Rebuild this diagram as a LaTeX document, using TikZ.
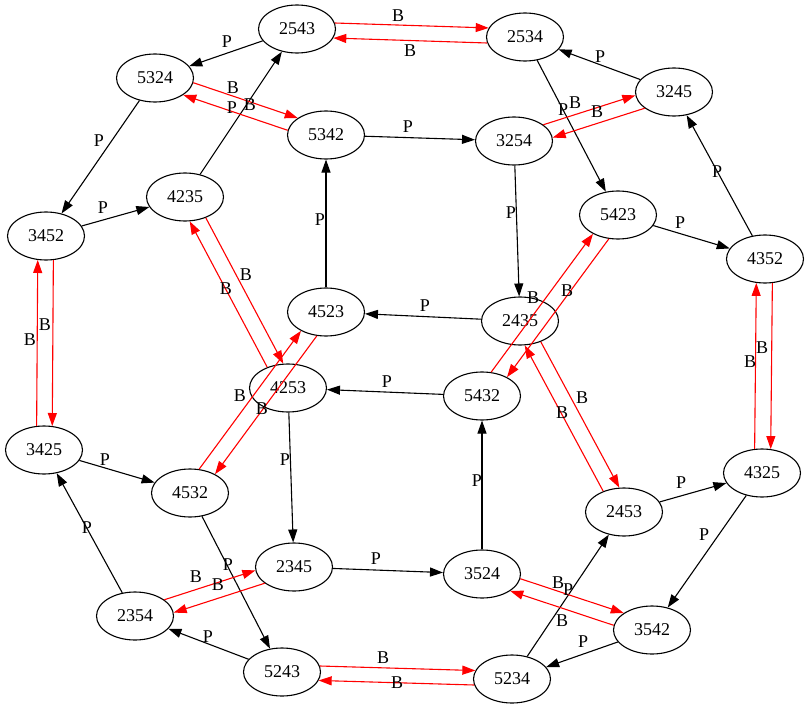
\documentclass[tikz,border=0pt]{standalone}
\usepackage{fontspec}
\setmainfont{Liberation Serif}
\usetikzlibrary{arrows.meta,shapes.geometric}
% red pair edge: straight line offset sideways from the centre line
\newcommand{\bpair}[2]{%
  \pgfmathanglebetweenpoints{\pgfpointanchor{#1}{center}}{\pgfpointanchor{#2}{center}}%
  \let\bpT\pgfmathresult
  \pgfmathsetmacro{\bpR}{924/sqrt(576*(cos(\bpT))^2+1482*(sin(\bpT))^2)}%
  \pgfmathsetmacro{\bpD}{asin(7.5/\bpR)}%
  \pgfmathsetmacro{\bpA}{\bpT+\bpD}%
  \pgfmathsetmacro{\bpB}{\bpT+180-\bpD}%
  \draw[be] (#1.\bpA) -- (#2.\bpB);%
}
\begin{document}
\begin{tikzpicture}[x=1pt,y=-1pt,
  st/.style={draw, ellipse, minimum width=77pt, minimum height=48pt, inner sep=0pt,
             line width=1.1pt, font=\fontsize{18}{20}\selectfont},
  pe/.style={draw=black, line width=1.1pt, -{Triangle[length=13pt,width=9pt]}},
  be/.style={draw=red, line width=1.1pt, -{Triangle[length=13pt,width=9pt]}},
  lb/.style={inner sep=0pt, font=\fontsize{18}{20}\selectfont}]
\useasboundingbox (0,0) rectangle (809,709);
% nodes
\node[st] (n2543) at (297,29) {2543};
\node[st] (n2534) at (525,37) {2534};
\node[st] (n5324) at (155,78) {5324};
\node[st] (n3245) at (674,92) {3245};
\node[st] (n5342) at (326,135) {5342};
\node[st] (n3254) at (514,141) {3254};
\node[st] (n4235) at (185,197) {4235};
\node[st] (n5423) at (618,215) {5423};
\node[st] (n3452) at (46,236) {3452};
\node[st] (n4352) at (765,259) {4352};
\node[st] (n4523) at (326,312) {4523};
\node[st] (n2435) at (520,321) {2435};
\node[st] (n4253) at (288,388) {4253};
\node[st] (n5432) at (482,396) {5432};
\node[st] (n3425) at (44,450) {3425};
\node[st] (n4325) at (762,473) {4325};
\node[st] (n4532) at (190,493) {4532};
\node[st] (n2453) at (624,512) {2453};
\node[st] (n2345) at (294,567) {2345};
\node[st] (n3524) at (482,574) {3524};
\node[st] (n2354) at (135,616) {2354};
\node[st] (n3542) at (652,630) {3542};
\node[st] (n5243) at (282,672) {5243};
\node[st] (n5234) at (512,679) {5234};
% black P edges
\draw[pe] (n2543) -- (n5324);
\draw[pe] (n3245) -- (n2534);
\draw[pe] (n2534) -- (n5423);
\draw[pe] (n5324) -- (n3452);
\draw[pe] (n5342) -- (n3254);
\draw[pe] (n4235) -- (n2543);
\draw[pe] (n3452) -- (n4235);
\draw[pe] (n4523) -- (n5342);
\draw[pe] (n3254) -- (n2435);
\draw[pe] (n5423) -- (n4352);
\draw[pe] (n4352) -- (n3245);
\draw[pe] (n2435) -- (n4523);
\draw[pe] (n5432) -- (n4253);
\draw[pe] (n4253) -- (n2345);
\draw[pe] (n3524) -- (n5432);
\draw[pe] (n3425) -- (n4532);
\draw[pe] (n4532) -- (n5243);
\draw[pe] (n2354) -- (n3425);
\draw[pe] (n2345) -- (n3524);
\draw[pe] (n2453) -- (n4325);
\draw[pe] (n4325) -- (n3542);
\draw[pe] (n3542) -- (n5234);
\draw[pe] (n5234) -- (n2453);
\draw[pe] (n5243) -- (n2354);
% red B edges (pairs)
\bpair{n2543}{n2534}\bpair{n2534}{n2543}
\bpair{n5324}{n5342}\bpair{n5342}{n5324}
\bpair{n3254}{n3245}\bpair{n3245}{n3254}
\bpair{n3452}{n3425}\bpair{n3425}{n3452}
\bpair{n4235}{n4253}\bpair{n4253}{n4235}
\bpair{n4523}{n4532}\bpair{n4532}{n4523}
\bpair{n5423}{n5432}\bpair{n5432}{n5423}
\bpair{n2435}{n2453}\bpair{n2453}{n2435}
\bpair{n4352}{n4325}\bpair{n4325}{n4352}
\bpair{n2345}{n2354}\bpair{n2354}{n2345}
\bpair{n3524}{n3542}\bpair{n3542}{n3524}
\bpair{n5243}{n5234}\bpair{n5234}{n5243}
% labels
\node[lb] (l01) at (227,42) {P};
\node[lb] (l02) at (398,16) {B};
\node[lb] (l03) at (410,51) {B};
\node[lb] (l04) at (600,57) {P};
\node[lb] (l05) at (233,88) {B};
\node[lb] (l06) at (250,105) {B};
\node[lb] (l07) at (232,108) {P};
\node[lb] (l08) at (575,103) {B};
\node[lb] (l09) at (597,112) {B};
\node[lb] (l10) at (563,110) {P};
\node[lb] (l11) at (99,141) {P};
\node[lb] (l12) at (408,127) {P};
\node[lb] (l13) at (103,208) {P};
\node[lb] (l14) at (45,325) {B};
\node[lb] (l15) at (30,340) {B};
\node[lb] (l16) at (246,275) {B};
\node[lb] (l17) at (226,289) {B};
\node[lb] (l18) at (320,220) {P};
\node[lb] (l19) at (511,213) {P};
\node[lb] (l20) at (680,223) {P};
\node[lb] (l21) at (717,172) {P};
\node[lb] (l22) at (567,291) {B};
\node[lb] (l23) at (533,298) {B};
\node[lb] (l24) at (762,348) {B};
\node[lb] (l25) at (750,362) {B};
\node[lb] (l26) at (425,306) {P};
\node[lb] (l27) at (387,382) {P};
\node[lb] (l28) at (240,396) {B};
\node[lb] (l29) at (262,409) {B};
\node[lb] (l30) at (582,398) {B};
\node[lb] (l31) at (562,413) {B};
\node[lb] (l32) at (285,460) {P};
\node[lb] (l33) at (477,481) {P};
\node[lb] (l34) at (105,460) {P};
\node[lb] (l35) at (87,528) {P};
\node[lb] (l36) at (228,565) {P};
\node[lb] (l37) at (196,577) {B};
\node[lb] (l38) at (218,585) {B};
\node[lb] (l39) at (208,637) {P};
\node[lb] (l40) at (376,559) {P};
\node[lb] (l41) at (681,483) {P};
\node[lb] (l42) at (704,535) {P};
\node[lb] (l43) at (558,583) {B};
\node[lb] (l44) at (562,621) {B};
\node[lb] (l45) at (568,590) {P};
\node[lb] (l46) at (583,642) {P};
\node[lb] (l47) at (383,658) {B};
\node[lb] (l48) at (397,683) {B};
\end{tikzpicture}
\end{document}
